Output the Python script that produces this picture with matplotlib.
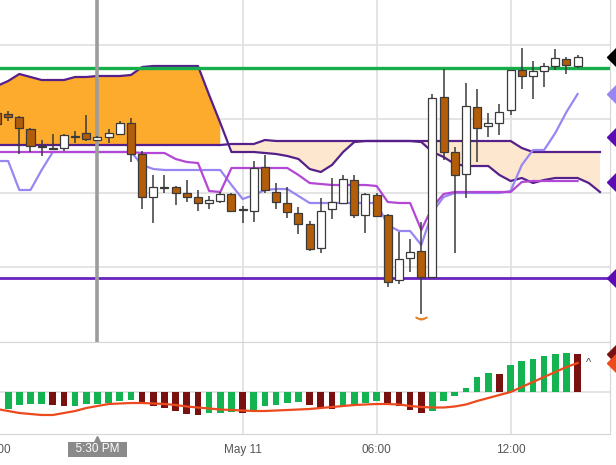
import numpy as np
import pandas as pd
import matplotlib
matplotlib.use("Agg")
import matplotlib.pyplot as plt
import matplotlib.dates as mdates

plt.rcParams["font.family"] = ["Liberation Sans", "DejaVu Sans"]

# 30 minute candles, May 10 13:00 -> May 11 15:00
times = pd.date_range("2020-05-10 13:00", periods=53, freq="30min")
cloud_times = pd.date_range("2020-05-10 13:00", periods=55, freq="30min")

opens = [387, 386, 383, 371, 354, 352, 352, 363, 367, 360, 363, 366, 377, 346, 303, 313, 313, 307,
         303, 297, 299, 306, 291, 289, 333, 308, 297, 287, 276, 252, 291, 297, 320, 285, 305, 285,
         220, 242, 249, 223, 403, 348, 326, 393, 374, 377, 390, 430, 424, 429, 434, 441, 434]
highs = [390, 389, 384, 372, 360, 366, 366, 369, 385, 364, 371, 379, 382, 349, 325, 325, 314, 320,
         310, 304, 308, 307, 294, 339, 345, 317, 313, 293, 279, 302, 322, 325, 325, 307, 307, 286,
         268, 261, 278, 406, 431, 353, 417, 411, 387, 396, 430, 452, 439, 437, 451, 443, 445]
lows = [373, 379, 346, 348, 344, 350, 349, 357, 359, 359, 357, 365, 338, 291, 277, 307, 295, 298,
        289, 291, 297, 288, 277, 278, 307, 291, 282, 266, 249, 247, 281, 296, 282, 267, 283, 213,
        216, 228, 186, 222, 340, 247, 302, 338, 363, 365, 385, 411, 401, 413, 430, 426, 432]
closes = [376, 383, 372, 354, 353, 351.5, 365, 363, 361, 363, 367, 377, 346, 303, 313, 312, 307, 303,
          297, 300, 306, 289, 290, 332, 310, 298, 288, 276, 251, 289, 298, 321, 285, 306, 284, 218,
          241, 248, 223, 402, 348, 325, 394, 372, 377, 388, 430, 424, 429, 434, 442, 435, 443]

# ichimoku lines
tenkan = [339, 339, 310, 310, 330, 348, 348, 348, 348, 348, 348, 348, 348, 335, 331, 330, 330, 330,
          330, 330, 330, 315, 301, 305, 310, 311, 311, 304, 297, 297, 297, 297, 297, 297, 297, 275,
          269, 269, 255, 288, 303, 307, 307, 307, 307, 307, 309, 335, 350, 350, 367, 388, 406]
kijun = [348, 348, 348, 348, 348, 348, 348, 348, 348, 348, 348, 348, 348, 347, 347, 347, 341, 338,
         337, 309, 308, 332, 332, 332, 332, 332, 332, 325, 317, 316, 315, 315, 315, 315, 314, 298,
         297, 297, 270, 293, 306, 308, 308, 308, 308, 308, 308, 318, 319, 319, 319, 319, 319]
span_a = [414, 419, 426, 423, 420, 420, 420, 423, 423, 424, 424, 424, 425, 433, 434, 434, 434, 434,
          434, 405, 377, 348, 348, 348, 347, 346, 344, 341, 331, 328, 335, 348, 358, 359, 359, 359,
          359, 359, 358, 348, 343, 336, 334, 334, 334, 325, 319, 322, 317, 320, 322, 322, 322, 317, 308]
span_b = [355] * 21 + [356] * 3 + [360] + [359] * 22 + [352] + [348] * 7

resistance = 432
support = 222

# MACD style histogram and signal
hist = [-2.3, -1.7, -1.3, -1.2, -1.18, -1.3, -1.4, -1.35, -1.2, -1.15, -1.1, -0.9, -0.8, -1.1,
        -1.4, -1.6, -1.9, -2.2, -2.25, -2.1, -2.05, -2.0, -2.05, -1.8, -1.4, -1.3, -1.1, -1.0,
        -1.3, -1.6, -1.65, -1.4, -1.3, -1.1, -0.9, -1.2, -1.4, -1.8, -2.1, -1.9, -0.9, -0.4,
        0.4, 1.5, 1.9, 1.85, 2.7, 3.1, 3.3, 3.6, 3.8, 3.9, 3.8]
signal = [-1.7, -1.9, -2.1, -2.2, -2.3, -2.3, -2.1, -1.9, -1.6, -1.4, -1.2, -1.15, -1.1, -1.1,
          -1.15, -1.2, -1.3, -1.45, -1.55, -1.65, -1.75, -1.8, -1.85, -1.9, -1.9, -1.85, -1.8,
          -1.75, -1.7, -1.6, -1.5, -1.4, -1.3, -1.25, -1.2, -1.2, -1.25, -1.4, -1.5, -1.55, -1.55,
          -1.45, -1.25, -0.9, -0.6, -0.3, 0.0, 0.5, 1.0, 1.5, 2.0, 2.5, 2.9]

x = mdates.date2num(times)
xc = mdates.date2num(cloud_times)
step = 1 / 48
o, h, l, c = map(np.array, (opens, highs, lows, closes))
a, b = np.array(span_a), np.array(span_b)

grid_col = "#e2e2e2"
fig = plt.figure(figsize=(6.16, 4.65), dpi=100)
ax = fig.add_axes([0, 1 - 342 / 465, 610 / 616, 342 / 465])
ax2 = fig.add_axes([0, 1 - 434 / 465, 610 / 616, 92 / 465], sharex=ax)

xticks = mdates.date2num(pd.to_datetime(["2020-05-11 00:00", "2020-05-11 06:00", "2020-05-11 12:00"]))

# main panel
ax.set_xlim(x[0] + 0.27 * step, x[0] + 54.9 * step)
ax.set_ylim(158, 500)
ax.set_yticks([233, 307, 381, 455])
for yt in ax.get_yticks():
    ax.axhline(yt, color=grid_col, lw=1.3, zorder=0)
for xt in xticks:
    ax.axvline(xt, color=grid_col, lw=1.3, zorder=0)
    ax2.axvline(xt, color=grid_col, lw=1.3, zorder=0)

ax.fill_between(xc, a, b, where=a >= b, color="#fdab2c", lw=0, zorder=1)
ax.fill_between(xc, a, b, where=a < b, color="#fde8cf", lw=0, zorder=1)
ax.plot(xc, a, color="#55208a", lw=1.6, zorder=2)
ax.plot(xc, b, color="#55208a", lw=1.6, zorder=2)
ax.plot(x, tenkan, color="#9a86f2", lw=1.6, zorder=2.1)
ax.plot(x, kijun, color="#b347d6", lw=1.6, zorder=2.2)

ax.axhline(resistance, color="#17ad4b", lw=2.4, zorder=2.5)
ax.axhline(support, color="#6a22bd", lw=2.0, zorder=2.5)
ax.axvline(x[9], color="#9c9c9c", lw=2.6, zorder=2.8)

up = c >= o
ax.vlines(x, l, h, color="#3a3a3a", lw=1.1, zorder=3)
ax.bar(x, np.maximum(np.abs(c - o), 0.8), bottom=np.minimum(o, c), width=0.72 * step,
       color=np.where(up, "white", "#b35d08"), edgecolor="#3a3a3a", lw=0.9, zorder=4)

ax.plot([x[38]], [182], marker=r"$\smile$", color="#e3852e", ms=8, zorder=4)

# price tags, cut by the right edge
tags = [(closes[-1], "black"), (tenkan[-1], "#9a86f2"), (363, "#5a0cb3"), (318, "#5a0cb3"),
        (support, "#5a0cb3")]
for yv, col in tags:
    ax.plot([1.0125], [yv], marker="D", ms=11, color=col, transform=ax.get_yaxis_transform(),
            clip_on=False, zorder=5)

for side in ["top", "left"]:
    ax.spines[side].set_visible(False)
for side in ["bottom", "right"]:
    ax.spines[side].set_color("#d6d6d6")
ax.tick_params(length=0, labelleft=False, labelbottom=False)

# oscillator panel
hv = np.array(hist)
cols = ["#14b352"] + ["#14b352" if hv[i] >= hv[i - 1] else "#7a1111" for i in range(1, len(hv))]
ax2.set_ylim(-4.2, 5.0)
ax2.axhline(0, color=grid_col, lw=1.3, zorder=0)
ax2.bar(x, hv, width=0.6 * step, color=cols, zorder=2)
ax2.plot(x, signal, color="#ec4a1d", lw=1.6, zorder=3)
ax2.text(x[-1] + step, signal[-1], "^", fontsize=8, color="#444444", ha="center", va="center")
for yv, col in [(hist[-1], "#7a1111"), (signal[-1], "#f04b1c")]:
    ax2.plot([1.0125], [yv], marker="D", ms=11, color=col, transform=ax2.get_yaxis_transform(),
             clip_on=False, zorder=5)

ax2.set_xticks(xticks)
ax2.set_xticklabels(["May 11", "06:00", "12:00"])
ax2.tick_params(length=0, pad=7, labelsize=8.5, labelcolor="#555555", labelleft=False)
ax2.set_yticks([])
ax2.spines["left"].set_visible(False)
for side in ["top", "bottom", "right"]:
    ax2.spines[side].set_color("#d6d6d6")

xt = ax2.get_xaxis_transform()
ax2.text(x[0] - 0.1 * step, -0.17, "12:00", transform=xt, fontsize=8.5, color="#555555",
         ha="center", va="center", clip_on=False)
ax2.text(x[9], -0.168, "  5:30 PM  ", transform=xt, fontsize=8.5, color="white",
         ha="center", va="center", clip_on=False,
         bbox=dict(boxstyle="square,pad=0.12", facecolor="#8a8a8a", edgecolor="none"))
ax2.plot([x[9]], [-0.06], marker="^", ms=6, color="#8a8a8a", transform=xt, clip_on=False)

fig.savefig("out.png", dpi=100)
